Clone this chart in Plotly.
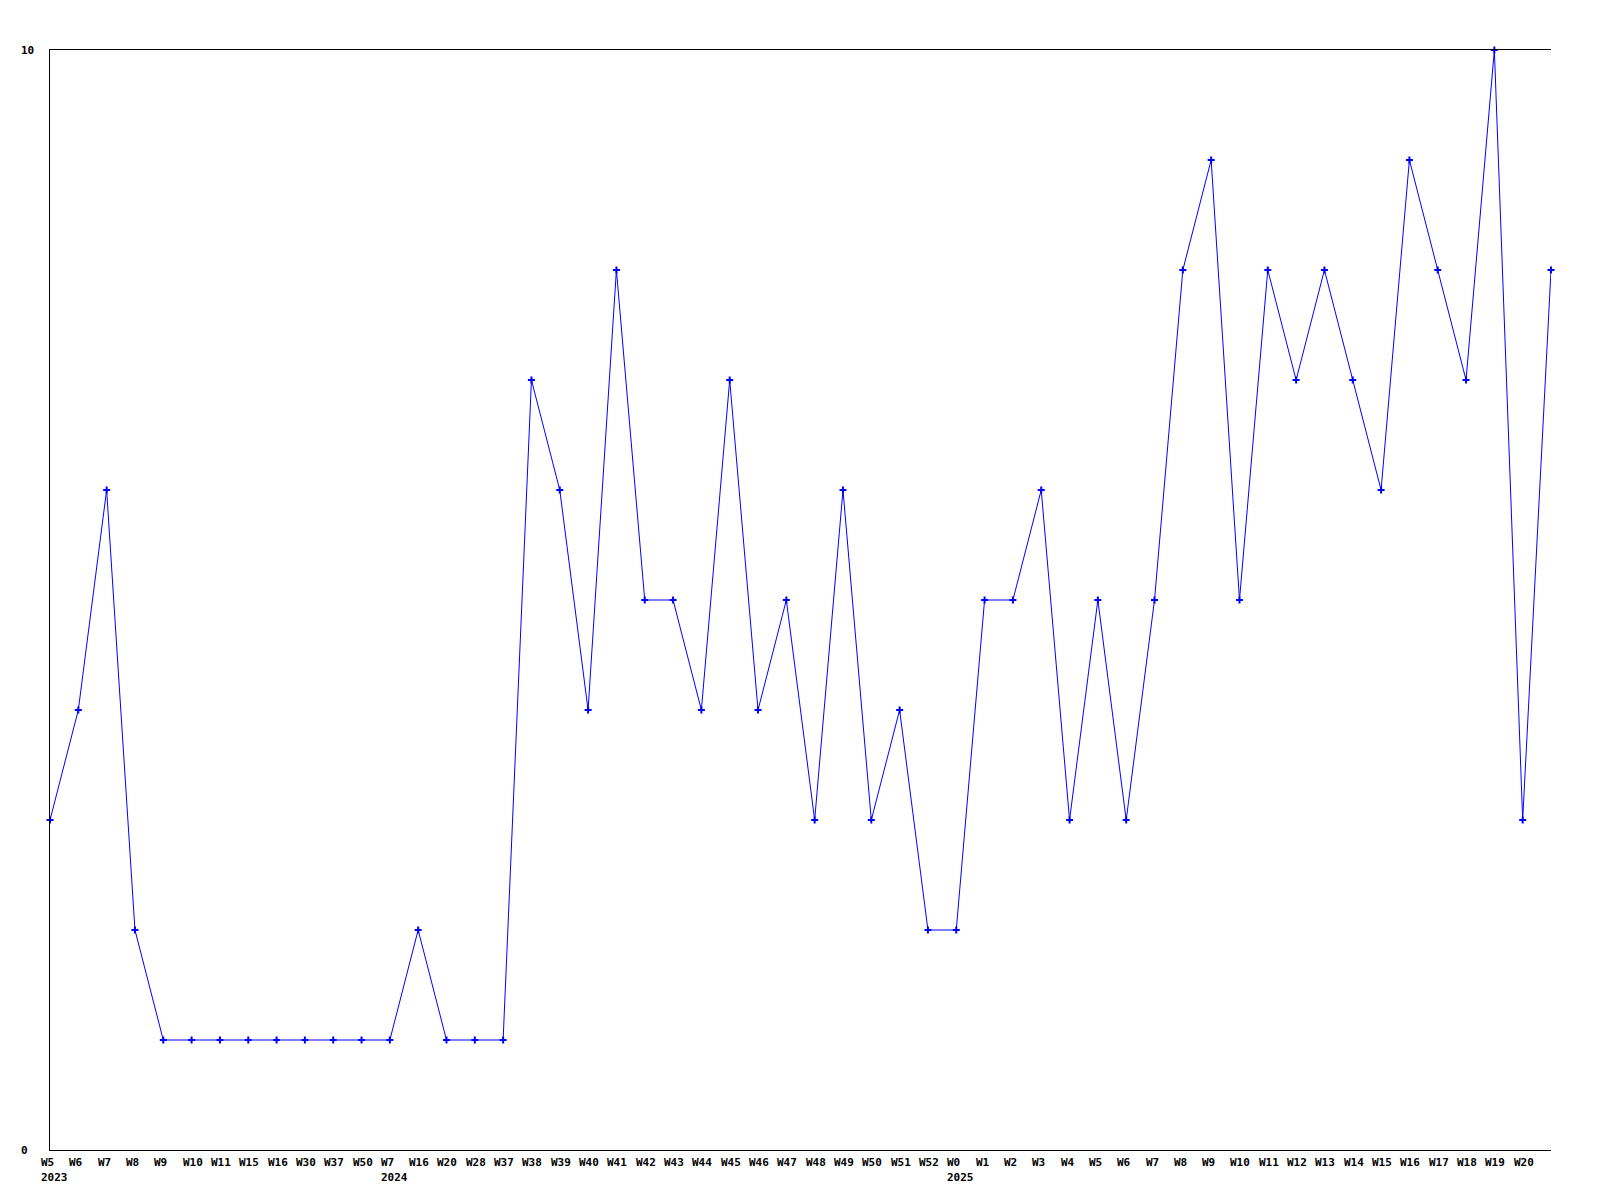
import plotly.graph_objects as go

week_labels = ["W5", "W6", "W7", "W8", "W9", "W10", "W11", "W15", "W16", "W30", "W37", "W50",
               "W7", "W16", "W20", "W28", "W37", "W38", "W39", "W40", "W41", "W42", "W43", "W44",
               "W45", "W46", "W47", "W48", "W49", "W50", "W51", "W52",
               "W0", "W1", "W2", "W3", "W4", "W5", "W6", "W7", "W8", "W9", "W10", "W11", "W12",
               "W13", "W14", "W15", "W16", "W17", "W18", "W19", "W20", ""]
year_labels = {0: "2023", 12: "2024", 32: "2025"}
values = [3, 4, 6, 2, 1, 1, 1, 1, 1, 1, 1, 1,
          1, 2, 1, 1, 1, 7, 6, 4, 8, 5, 5, 4, 7, 4, 5, 3, 6, 3, 4, 2,
          2, 5, 5, 6, 3, 5, 3, 5, 8, 9, 5, 8, 7, 8, 7, 6, 9, 8, 7, 10, 3, 8]
y_ticks = [0, 10]

x = list(range(len(values)))
FONT = dict(family="DejaVu Sans Mono", size=11, color="black", weight="bold")

fig = go.Figure()
fig.add_trace(go.Scatter(
    x=x, y=values, mode="lines+markers",
    line=dict(color="#0000FF", width=1),
    marker=dict(symbol="cross-thin", size=5, line=dict(color="#0000FF", width=2), color="#0000FF"),
    cliponaxis=False, hoverinfo="skip",
))

annotations = []
for i, lab in enumerate(week_labels):
    if lab:
        annotations.append(dict(x=i, y=0, xref="x", yref="paper", text=lab, showarrow=False,
                                xanchor="left", yanchor="middle", xshift=-11, yshift=-12, font=FONT))
for i, yr in year_labels.items():
    annotations.append(dict(x=i, y=0, xref="x", yref="paper", text=yr, showarrow=False,
                            xanchor="left", yanchor="middle", xshift=-11, yshift=-27, font=FONT))
for t in y_ticks:
    annotations.append(dict(x=0, y=t, xref="paper", yref="y", text=str(t), showarrow=False,
                            xanchor="left", yanchor="middle", xshift=-31, font=FONT))

fig.update_layout(
    width=1584, height=1184,
    margin=dict(l=42, r=41, t=42, b=42),
    paper_bgcolor="white", plot_bgcolor="white",
    showlegend=False,
    annotations=annotations,
    xaxis=dict(range=[0, len(values) - 1], showgrid=False, zeroline=False, showticklabels=False,
               showline=True, linecolor="black", linewidth=1, mirror=True, ticks=""),
    yaxis=dict(range=[0, 10], showgrid=False, zeroline=False, showticklabels=False,
               showline=True, linecolor="black", linewidth=1, ticks=""),
)

fig.write_html("out.html")
